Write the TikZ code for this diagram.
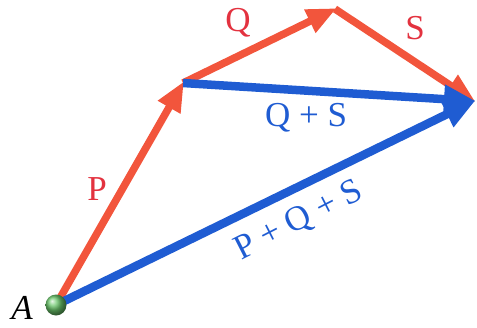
\documentclass[tikz,border=0pt]{standalone}
\usepackage{fontspec}
\setmainfont{Liberation Serif}
\usetikzlibrary{arrows.meta}
\definecolor{vred}{HTML}{F2553C}
\definecolor{tred}{HTML}{E3323F}
\definecolor{vblue}{HTML}{1F5CD2}
\tikzset{
  redvec/.style={draw=vred, line width=7.5pt, -{Triangle[length=30pt,width=24pt]}, shorten >=-2pt},
  bluevec/.style={draw=vblue, line width=8.5pt, -{Triangle[length=32pt,width=27pt]}, shorten >=-2pt},
  lblfont/.style={font=\fontsize{35}{35}\selectfont, inner sep=0pt},
  redlbl/.style={lblfont, text=tred},
  bluelbl/.style={lblfont, text=vblue},
}
\begin{document}
\begin{tikzpicture}[x=1pt,y=-1pt]
\useasboundingbox (0,0) rectangle (477,327);
\coordinate (A) at (56,305);
\coordinate (B) at (183,83);
\coordinate (C) at (335,9);
\coordinate (D) at (474,101);
\draw[redvec] (A) -- (B);
\draw[redvec] (B) -- (C);
\draw[redvec] (C) -- (D);
\draw[bluevec] (B) -- (D);
\draw[bluevec] (A) -- (D);
\shade[ball color=green!45!gray!80!white] (A) circle (10.5pt);
\node[redlbl] (lP) at (97,189) {P};
\node[redlbl] (lQ) at (238,23) {Q};
\node[redlbl] (lS) at (415,28) {S};
\node[bluelbl] (lQS) at (306,118) {Q + S};
\node[bluelbl, rotate=27] (lPQS) at (299,221) {P + Q + S};
\node[lblfont, anchor=base] (lA) at (22,319) {\itshape A};
\end{tikzpicture}
\end{document}
